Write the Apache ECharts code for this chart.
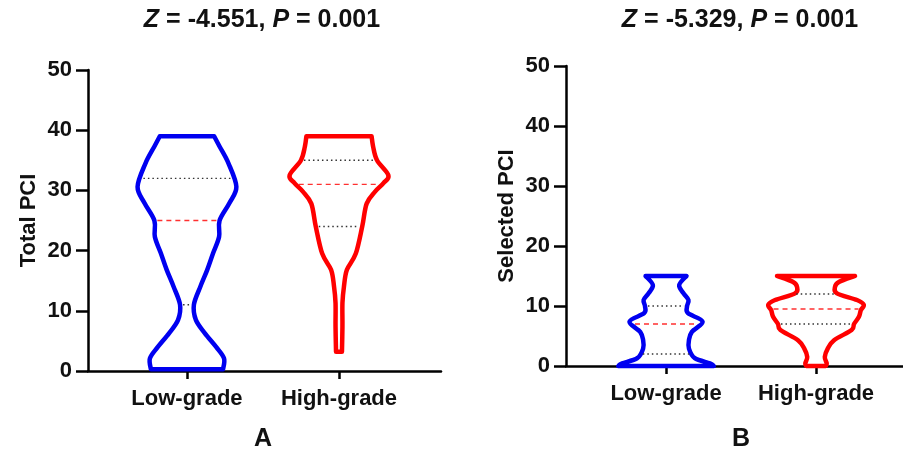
<!DOCTYPE html>
<html>
<head>
<meta charset="utf-8">
<script src="https://cdn.jsdelivr.net/npm/echarts@6/dist/echarts.min.js"></script>
<style>
  html, body { margin: 0; padding: 0; background: #fff; }
  #chart { width: 903px; height: 461px; }
</style>
</head>
<body>
<div id="chart"></div>
<script>
// ---- data ----
const categories = ['Low-grade', 'High-grade'];
const yTicks = [0, 10, 20, 30, 40, 50];

// Panel A: Total PCI. Violin outline = relative density at each PCI level.
const totalLowLevels   = [39, 37.3, 34.5, 30.6, 27.9, 25, 22.3, 19.6, 16.8, 14, 11, 8.5, 6.3, 4, 2.1, 0.3];
const totalLowDensity  = [0.55, 0.66, 0.84, 1.0, 0.86, 0.66, 0.65, 0.53, 0.41, 0.27, 0.14, 0.18, 0.36, 0.59, 0.75, 0.73];
const totalLowQuart    = [11, 25, 32];   // Q1, median, Q3

const totalHighLevels  = [39, 37.3, 35, 32.5, 31.2, 29.8, 27.8, 24, 19.5, 16.8, 14, 11.3, 7.4, 3.2];
const totalHighDensity = [0.66, 0.69, 0.77, 1.0, 0.9, 0.73, 0.56, 0.47, 0.34, 0.16, 0.1, 0.07, 0.07, 0.06];
const totalHighQuart   = [24, 31, 35];

// Panel B: Selected PCI
const selLowLevels     = [15, 13.5, 12.1, 11, 9.9, 8.8, 7.4, 5.7, 4.3, 2.9, 1.3, 0.45, 0];
const selLowDensity    = [0.42, 0.27, 0.36, 0.46, 0.43, 0.45, 0.75, 0.53, 0.47, 0.47, 0.59, 0.9, 0.98];
const selLowQuart      = [2, 7, 10];

const selHighLevels    = [15, 14, 13.2, 12.1, 11, 10.2, 9.3, 8.2, 7, 6, 4.3, 2.9, 1.5, 0.45, 0];
const selHighDensity   = [0.8, 0.47, 0.39, 0.43, 0.84, 0.98, 0.92, 0.88, 0.78, 0.73, 0.37, 0.24, 0.18, 0.22, 0.2];
const selHighQuart     = [7, 9.5, 12];

const statA = '{i|Z} = -4.551, {i|P} = 0.001';
const statB = '{i|Z} = -5.329, {i|P} = 0.001';

// ---- drawing ----
const FONT = 'Liberation Sans, Arial, sans-serif';
const HALF = 0.325;          // half-width (x units) of a violin at peak density
const BLUE = '#0000f0', RED = '#ff0000';

function catmull(points) {
  // Smooth path segments through the given pixel points
  let d = '';
  for (let i = 0; i < points.length - 1; i++) {
    const p0 = points[Math.max(i - 1, 0)], p1 = points[i], p2 = points[i + 1], p3 = points[Math.min(i + 2, points.length - 1)];
    const c1 = [p1[0] + (p2[0] - p0[0]) / 6, p1[1] + (p2[1] - p0[1]) / 6];
    const c2 = [p2[0] - (p3[0] - p1[0]) / 6, p2[1] - (p3[1] - p1[1]) / 6];
    d += ' C' + c1[0] + ' ' + c1[1] + ' ' + c2[0] + ' ' + c2[1] + ' ' + p2[0] + ' ' + p2[1];
  }
  return d;
}

function densityAt(levels, dens, v) {
  for (let i = 0; i < levels.length - 1; i++) {
    const a = levels[i], b = levels[i + 1];
    if ((v <= a && v >= b)) {
      const t = (a - v) / (a - b);
      return dens[i] + (dens[i + 1] - dens[i]) * t;
    }
  }
  return dens[dens.length - 1];
}

function violin(axisIdx, xPos, levels, dens, quart, color) {
  return {
    type: 'custom',
    xAxisIndex: axisIdx,
    yAxisIndex: axisIdx,
    data: [[xPos, levels[0]]],
    silent: true,
    renderItem: function (params, api) {
      const left = levels.map((v, i) => api.coord([xPos - HALF * dens[i], v]));
      const right = levels.map((v, i) => api.coord([xPos + HALF * dens[i], v])).reverse();
      let d = 'M' + left[0][0] + ' ' + left[0][1] + catmull(left);
      d += ' L' + right[0][0] + ' ' + right[0][1] + catmull(right) + ' Z';
      const children = [{
        type: 'path',
        shape: { pathData: d },
        style: { fill: 'none', stroke: color, lineWidth: 4.5, lineJoin: 'round' }
      }];
      quart.forEach((q, k) => {
        const w = HALF * densityAt(levels, dens, q);
        const a = api.coord([xPos - w, q]);
        const b = api.coord([xPos + w, q]);
        const inset = 3;
        const isMedian = k === 1;
        children.push({
          type: 'line',
          shape: { x1: a[0] + inset, y1: a[1], x2: b[0] - inset, y2: b[1] },
          style: {
            stroke: isMedian ? '#ff3030' : '#333',
            lineWidth: 1.4,
            lineDash: isMedian ? [5, 4] : [1.5, 3]
          }
        });
      });
      return { type: 'group', children: children };
    }
  };
}

function xAxis(gridIdx, min, max) {
  return {
    type: 'value', gridIndex: gridIdx, min: min, max: max,
    splitLine: { show: false },
    axisLine: { show: true, onZero: false, lineStyle: { color: '#000', width: 2.5 } },
    axisTick: { show: true, customValues: [1, 2], length: 8, lineStyle: { color: '#000', width: 2.5 } },
    axisLabel: {
      customValues: [1, 2], margin: 17,
      formatter: v => categories[Math.round(v) - 1],
      color: '#111', fontFamily: FONT, fontWeight: 'bold', fontSize: 22
    }
  };
}

function yAxis(gridIdx, name, gap) {
  return {
    type: 'value', gridIndex: gridIdx, min: yTicks[0], max: yTicks[yTicks.length - 1], interval: 10,
    name: name, nameLocation: 'middle', nameGap: gap,
    nameTextStyle: { color: '#111', fontFamily: FONT, fontWeight: 'bold', fontSize: 22 },
    splitLine: { show: false },
    axisLine: { show: true, lineStyle: { color: '#000', width: 2.5 } },
    axisTick: { show: true, length: 12, lineStyle: { color: '#000', width: 2.5 } },
    axisLabel: { margin: 16, color: '#111', fontFamily: FONT, fontWeight: 'bold', fontSize: 22 }
  };
}

function statText(x, text) {
  return {
    type: 'text', x: x, y: 20,
    style: {
      text: text, align: 'center', verticalAlign: 'middle',
      font: 'bold 25px ' + FONT, fill: '#111',
      rich: { i: { fontStyle: 'italic', fontWeight: 'bold', fontSize: 25, fontFamily: FONT, fill: '#111' } }
    }
  };
}

function panelLetter(x, text) {
  return {
    type: 'text', x: x, y: 439,
    style: { text: text, align: 'center', verticalAlign: 'middle', font: 'bold 25px ' + FONT, fill: '#111' }
  };
}

const chart = echarts.init(document.getElementById('chart'), null, { renderer: 'canvas' });
chart.setOption({
  animation: false,
  backgroundColor: '#fff',
  grid: [
    { left: 88, top: 70, width: 353, height: 301 },
    { left: 566, top: 66, width: 337, height: 300 }
  ],
  xAxis: [xAxis(0, 0.349, 2.671), xAxis(1, 0.333, 2.58)],
  yAxis: [yAxis(0, 'Total PCI', 48), yAxis(1, 'Selected PCI', 48)],
  graphic: [
    statText(262, statA), statText(740, statB),
    panelLetter(263, 'A'), panelLetter(741, 'B')
  ],
  series: [
    violin(0, 1, totalLowLevels, totalLowDensity, totalLowQuart, BLUE),
    violin(0, 2, totalHighLevels, totalHighDensity, totalHighQuart, RED),
    violin(1, 1, selLowLevels, selLowDensity, selLowQuart, BLUE),
    violin(1, 2, selHighLevels, selHighDensity, selHighQuart, RED)
  ]
});
</script>
</body>
</html>
